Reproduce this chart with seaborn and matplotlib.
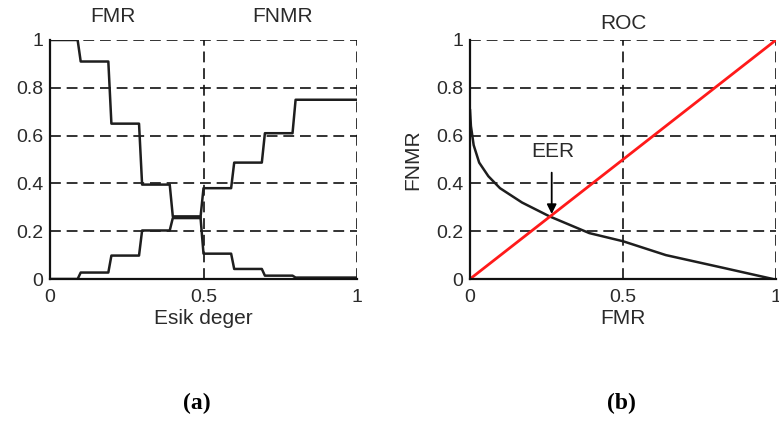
import numpy as np
import pandas as pd
import matplotlib
matplotlib.use("Agg")
import matplotlib.pyplot as plt
import seaborn as sns

# ---- data ----
step_edges = [0.09, 0.19, 0.29, 0.39, 0.49, 0.59, 0.69, 0.79]
fmr_levels = [1.0, 0.91, 0.65, 0.395, 0.262, 0.106, 0.042, 0.014, 0.006]
fnmr_levels = [0.0, 0.027, 0.098, 0.203, 0.255, 0.380, 0.487, 0.610, 0.750]
transition_width = 0.01

roc_fmr = [0.0, 0.003, 0.012, 0.03, 0.06, 0.098, 0.17, 0.26, 0.39, 0.50, 0.64, 0.83, 0.99]
roc_fnmr = [0.71, 0.64, 0.56, 0.487, 0.43, 0.38, 0.32, 0.262, 0.192, 0.158, 0.10, 0.046, 0.0]

diag_x = [0.0, 1.0]
diag_y = [0.0, 1.0]

eer_text_xy = (0.27, 0.535)
eer_arrow_from = (0.267, 0.445)
eer_arrow_to = (0.267, 0.272)

x_ticks = [0, 0.5, 1]
x_tick_labels = ["0", "0.5", "1"]
y_ticks = [0, 0.2, 0.4, 0.6, 0.8, 1]
y_tick_labels = ["0", "0.2", "0.4", "0.6", "0.8", "1"]


def step_curve(edges, levels, w):
    xs, ys = [0.0], [levels[0]]
    for i, e in enumerate(edges):
        xs += [e, e + w]
        ys += [levels[i], levels[i + 1]]
    xs.append(1.0)
    ys.append(levels[-1])
    return pd.DataFrame({"x": xs, "y": ys})


sns.set_style("white")
plt.rcParams["font.family"] = ["Liberation Sans", "DejaVu Sans"]

fig = plt.figure(figsize=(7.79, 4.23), dpi=100)
ax1 = fig.add_axes([50 / 779, 1 - 279 / 423, 307 / 779, 239 / 423])
ax2 = fig.add_axes([470 / 779, 1 - 279 / 423, 306 / 779, 239 / 423])

line_col = "#1e1e1e"
text_col = "#2a2a2a"
tick_fs = 14
label_fs = 15

fmr_df = step_curve(step_edges, fmr_levels, transition_width)
fnmr_df = step_curve(step_edges, fnmr_levels, transition_width)
sns.lineplot(data=fmr_df, x="x", y="y", sort=False, estimator=None, ax=ax1,
             color=line_col, linewidth=1.8, zorder=3)
sns.lineplot(data=fnmr_df, x="x", y="y", sort=False, estimator=None, ax=ax1,
             color=line_col, linewidth=1.8, zorder=3)

roc_df = pd.DataFrame({"fmr": roc_fmr, "fnmr": roc_fnmr})
sns.lineplot(data=roc_df, x="fmr", y="fnmr", sort=False, estimator=None, ax=ax2,
             color=line_col, linewidth=1.8, zorder=3)
sns.lineplot(x=diag_x, y=diag_y, ax=ax2, color="#ff1a1a", linewidth=2.0, zorder=4)

ax2.annotate("", xy=eer_arrow_to, xytext=eer_arrow_from,
             arrowprops=dict(arrowstyle="-|>", color="black", lw=1.3,
                             mutation_scale=14, shrinkA=0, shrinkB=0), zorder=5)
ax2.text(eer_text_xy[0], eer_text_xy[1], "EER", ha="center", va="center",
         fontsize=label_fs, color=text_col)

for ax in (ax1, ax2):
    ax.set_xlim(0, 1)
    ax.set_ylim(0, 1)
    ax.set_xticks(x_ticks)
    ax.set_xticklabels(x_tick_labels)
    ax.set_yticks(y_ticks)
    ax.set_yticklabels(y_tick_labels)
    ax.tick_params(axis="both", labelsize=tick_fs, colors="#111111", labelcolor=text_col,
                   direction="in", length=4, width=1.2)
    ax.tick_params(axis="x", pad=7)
    ax.tick_params(axis="y", pad=5)
    for s in ("top", "right"):
        ax.spines[s].set_visible(False)
    for s in ("left", "bottom"):
        ax.spines[s].set_color("#111111")
        ax.spines[s].set_linewidth(1.6)
    ax.grid(True, color="#111111", linestyle=(0, (6.5, 3.5)), linewidth=1.2)
    ax.set_axisbelow(True)
    for sp in ax.spines.values():
        sp.set_clip_on(False)
        sp.set_zorder(6)

ax1.set_xlabel("Esik deger", fontsize=label_fs, color=text_col, labelpad=2)
ax1.set_ylabel("")
ax2.set_xlabel("FMR", fontsize=label_fs, color=text_col, labelpad=2)
ax2.set_ylabel("FNMR", fontsize=label_fs, color=text_col, labelpad=10)
ax2.set_title("ROC", fontsize=label_fs, color=text_col, pad=8)

fig.text(113 / 779, 1 - 16 / 423, "FMR", ha="center", va="center", fontsize=label_fs, color=text_col)
fig.text(283 / 779, 1 - 16 / 423, "FNMR", ha="center", va="center", fontsize=label_fs, color=text_col)

fig.text(197 / 779, 1 - 403 / 423, "(a)", ha="center", va="center", fontsize=17,
         fontweight="bold", family=["Liberation Serif", "DejaVu Serif"], color="black")
fig.text(621 / 779, 1 - 403 / 423, "(b)", ha="center", va="center", fontsize=17,
         fontweight="bold", family=["Liberation Serif", "DejaVu Serif"], color="black")

fig.savefig("out.png", dpi=100)
